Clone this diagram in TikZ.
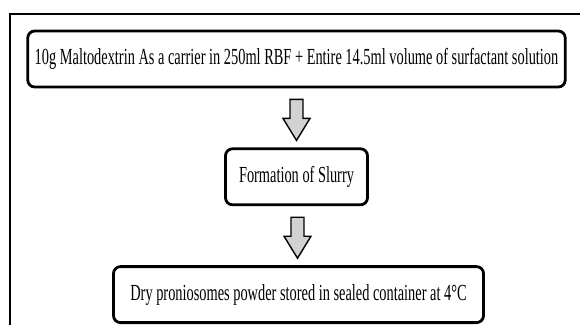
\documentclass[tikz,border=0pt]{standalone}
\usepackage{fontspec}
\setmainfont{Liberation Serif}[FakeStretch=0.625]
\usetikzlibrary{positioning,calc}
\definecolor{arrowgray}{RGB}{210,210,210}
\tikzset{stepbox/.style={
    % The shape:
    rectangle, rounded corners=7pt,
    % The size:
    minimum height=56pt, inner xsep=7pt,
    % The border:
    line width=2.8pt,
    draw=black,
    % Font
    font=\fontsize{23}{26}\selectfont
    },
    flowarrow/.pic={
    \draw[fill=arrowgray, line width=1.4pt, line join=miter]
      (-6.5,18.5) -- (6.5,18.5) -- (6.5,-0.5) -- (13.5,-0.5) -- (0,-22.5)
      -- (-13.5,-0.5) -- (-6.5,-0.5) -- cycle;
    },
}

\begin{document}
\begin{tikzpicture}[x=1pt, y=1pt, node distance = 59pt and 0pt]
    \useasboundingbox (0,0) rectangle (580,-325);
    \draw[line width=1.4pt] (10,-325) -- (10,-14) -- (580,-14);

    \node (mix)    [stepbox] at (296.5,-59) {10g Maltodextrin As a carrier in 250ml RBF + Entire 14.5ml volume of surfactant solution};
    \node (slurry) [stepbox,below=of mix,minimum width=142pt]  {Formation of Slurry};
    \node (store)  [stepbox,below=of slurry,minimum width=370pt,xshift=2pt] {Dry proniosomes powder stored in sealed container at 4°C};

    \path (mix.south) -- (slurry.north) pic[pos=0.5] {flowarrow};
    \path (slurry.south) -- (store.north) pic[pos=0.5] {flowarrow};
\end{tikzpicture}
\end{document}
